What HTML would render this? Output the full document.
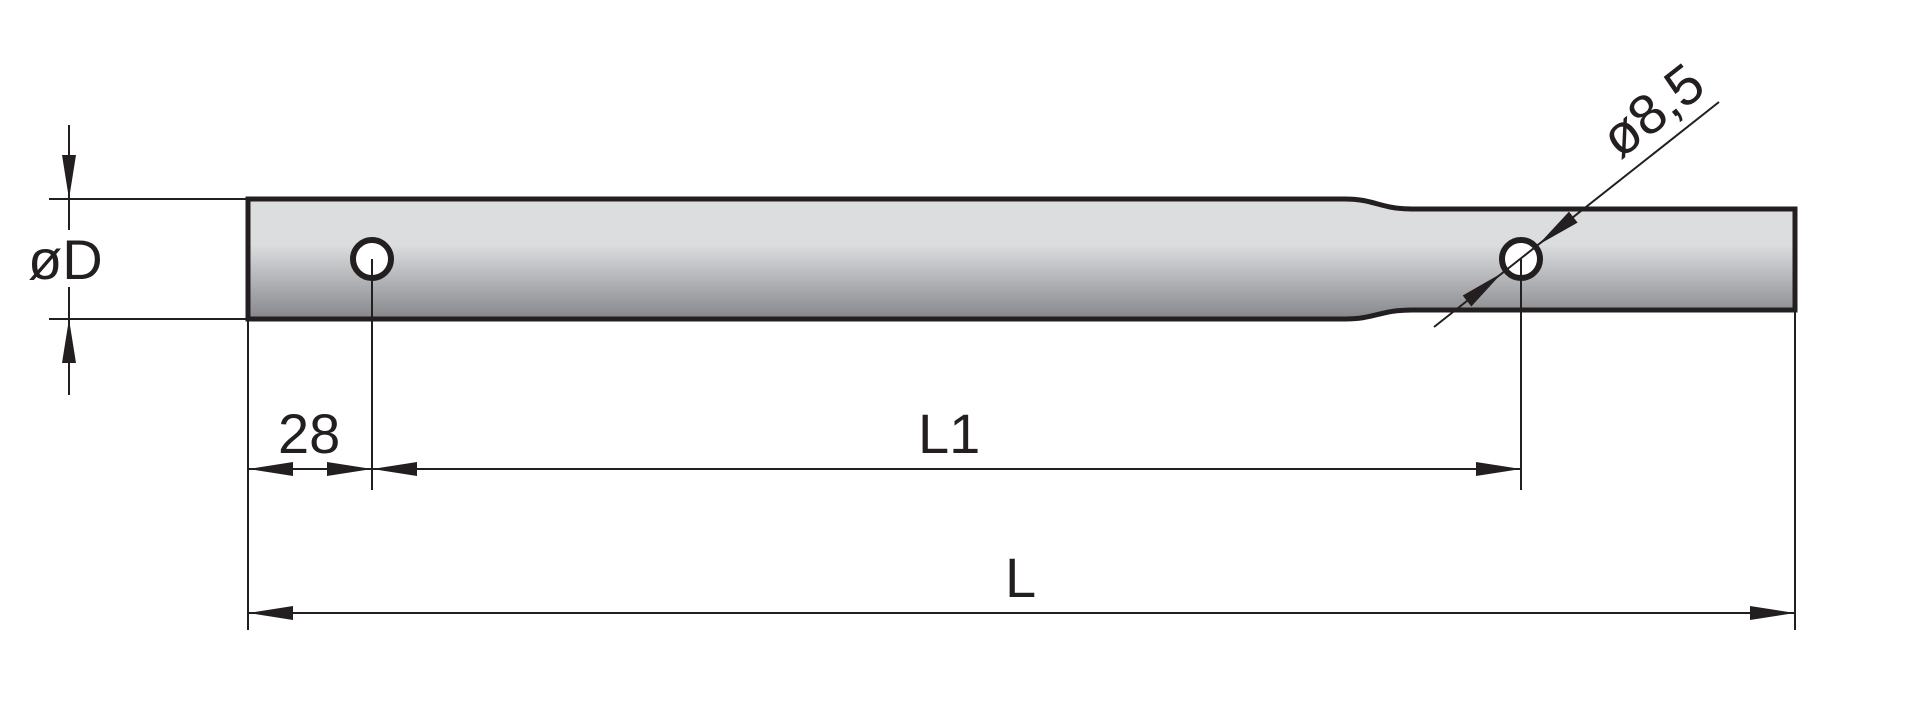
<!DOCTYPE html>
<html><head><meta charset="utf-8"><style>
html,body{margin:0;padding:0;background:#fff;}
svg{display:block;}
text{font-family:"Liberation Sans",sans-serif;fill:#231f20;}
</style></head><body>
<svg width="1908" height="712" viewBox="0 0 1908 712" xmlns="http://www.w3.org/2000/svg">
<defs>
<linearGradient id="g" x1="0" y1="199" x2="0" y2="319" gradientUnits="userSpaceOnUse">
<stop offset="0" stop-color="#dcdddf"/>
<stop offset="0.38" stop-color="#dcdddf"/>
<stop offset="1" stop-color="#86878b"/>
</linearGradient>
</defs>
<g stroke="#231f20" fill="none">
<path d="M248,199 L1345,199 C1375,199 1380,209 1412,209 L1795,209 L1795,310 L1412,310 C1380,310 1375,319 1345,319 L248,319 Z" fill="url(#g)" stroke-width="5"/>
<circle cx="372" cy="259" r="19" fill="#fff" stroke-width="6"/>
<circle cx="1521" cy="259" r="19" fill="#fff" stroke-width="6"/>
<g stroke-width="2">
<line x1="49" y1="199" x2="248" y2="199"/>
<line x1="49" y1="319" x2="248" y2="319"/>
<line x1="69" y1="125" x2="69" y2="230"/>
<line x1="69" y1="287" x2="69" y2="395"/>
<line x1="248" y1="319" x2="248" y2="630"/>
<line x1="372" y1="259" x2="372" y2="490"/>
<line x1="1521" y1="259" x2="1521" y2="490"/>
<line x1="1795" y1="310" x2="1795" y2="630"/>
<line x1="248" y1="469" x2="1521" y2="469"/>
<line x1="248" y1="613" x2="1795" y2="613"/>
<line x1="1434" y1="327" x2="1719" y2="102"/>
</g>
</g>
<g fill="#231f20">
<polygon points="69,199 62,155 76,155"/>
<polygon points="69,319 62,363 76,363"/>
<polygon points="248,469 293,462 293,476"/>
<polygon points="372,469 327,462 327,476"/>
<polygon points="372,469 417,462 417,476"/>
<polygon points="1521,469 1476,462 1476,476"/>
<polygon points="248,613 293,606 293,620"/>
<polygon points="1795,613 1750,606 1750,620"/>
<polygon points="1538,245 1577.6,222.6 1569,211.6"/>
<polygon points="1502,273 1471.3,306.5 1462.7,295.5"/>
</g>
<text x="28" y="279" font-size="56">øD</text>
<text x="278" y="453" font-size="56">28</text>
<text x="918" y="453" font-size="56">L1</text>
<text x="1005" y="597" font-size="56">L</text>
<text x="0" y="0" font-size="56" transform="translate(1620,160) rotate(-38)">ø8,5</text>
</svg>
</body></html>
